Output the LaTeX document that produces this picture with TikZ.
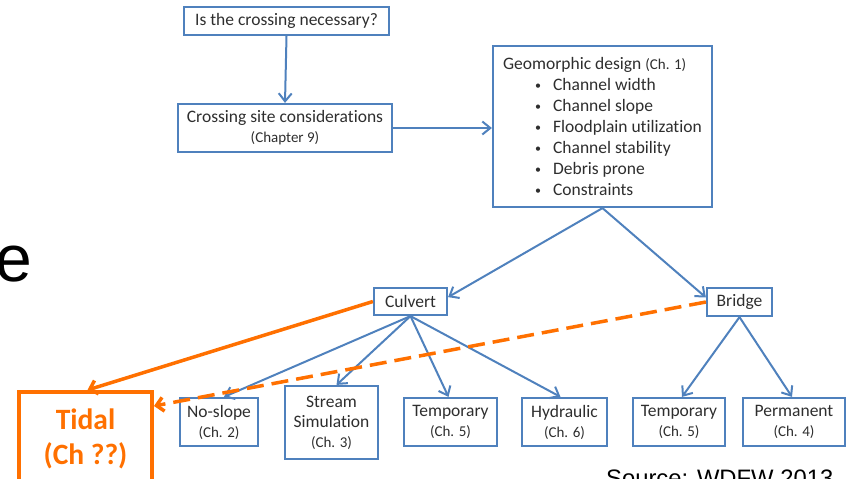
\documentclass[tikz,border=0pt]{standalone}
\usepackage{fontspec}
\setmainfont[Ligatures=NoCommon]{Carlito}
\newfontfamily\arialf{Liberation Sans}
\usetikzlibrary{arrows.meta,calc}
\definecolor{boxblue}{HTML}{4F81BD}
\definecolor{txtgray}{HTML}{2E2E2E}
\definecolor{orng}{HTML}{FF7000}
\newcommand{\smtxt}{\fontsize{15}{20}\selectfont}
\newcommand{\bul}{\hspace*{32pt}\makebox[18pt][l]{\raisebox{1pt}{\fontsize{12}{12}\selectfont •}}}
\begin{document}
\begin{tikzpicture}[x=1pt,y=-1pt,
  bx/.style={draw=boxblue, line width=2.2pt, rectangle, inner sep=0pt, text=txtgray,
     font=\fontsize{17.5}{20}\selectfont, align=center},
  blarrow/.style={draw=boxblue, line width=2pt, -{Straight Barb[length=8pt,width=13pt]}},
  orarrow/.style={draw=orng, line width=3.5pt, -{Straight Barb[length=7pt,width=14pt]}},
]
\useasboundingbox (0,0) rectangle (852,479);
\clip (0,0) rectangle (852,479);

\node[bx, minimum width=205pt, minimum height=28pt] (q) at (286.5,21) {Is the crossing necessary?};
\node[bx, minimum width=214pt, minimum height=48pt] (site) at (285,128) {Crossing site considerations\\{\smtxt (Chapter 9)}};
\node[bx, minimum width=219pt, minimum height=161pt, align=left, font=\fontsize{17.5}{21}\selectfont] (geo) at (602.5,126.5)
  {Geomorphic design {\smtxt (Ch. 1)}\\
   \bul Channel width\\
   \bul Channel slope\\
   \bul Floodplain utilization\\
   \bul Channel stability\\
   \bul Debris prone\\
   \bul Constraints};
\node[bx, minimum width=73pt, minimum height=27pt] (culvert) at (410.5,301.5) {Culvert};
\node[bx, minimum width=65pt, minimum height=28pt] (bridge) at (739.5,302) {Bridge};

\node[bx, minimum width=78pt, minimum height=48pt] (noslope) at (219,422) {No-slope\\{\smtxt (Ch. 2)}};
\node[bx, minimum width=93pt, minimum height=73pt] (stream) at (331.5,422.5) {Stream\\Simulation\\{\smtxt (Ch. 3)}};
\node[bx, minimum width=93pt, minimum height=48pt] (tempc) at (450.5,422) {Temporary\\{\smtxt (Ch. 5)}};
\node[bx, minimum width=85pt, minimum height=48pt] (hyd) at (564.5,422) {Hydraulic\\{\smtxt (Ch. 6)}};
\node[bx, minimum width=92pt, minimum height=48pt] (tempb) at (679,422) {Temporary\\{\smtxt (Ch. 5)}};
\node[bx, minimum width=102pt, minimum height=48pt] (perm) at (794,422) {Permanent\\{\smtxt (Ch. 4)}};

\node[draw=orng, line width=4pt, rectangle, inner sep=0pt, minimum width=133pt, minimum height=94pt,
      text=orng, font=\bfseries\fontsize{29.5}{35}\selectfont, align=center] (tidal) at (85.5,439) {Tidal\\(Ch ??)};

\node[anchor=base east, inner sep=0pt, font=\arialf\fontsize{66}{70}\selectfont] (bige) at (32,281) {e};
\node[anchor=base west, inner sep=0pt, font=\arialf\fontsize{23.8}{28}\selectfont] (src) at (606,486) {Source: WDFW 2013};

\draw[blarrow] (q.south) -- (site.north);
\draw[blarrow] (site.east) -- (site.east -| geo.west);
\draw[blarrow] (geo.south) -- ($(culvert.north east)!0.35!(culvert.south east)$);
\draw[blarrow] (geo.south) -- ($(bridge.north west)!0.35!(bridge.south west)$);
\draw[blarrow] (culvert.south) -- ([xshift=5pt]noslope.north);
\draw[blarrow] (culvert.south) -- ([xshift=5pt]stream.north);
\draw[blarrow] (culvert.south) -- ([xshift=-2pt]tempc.north);
\draw[blarrow] (culvert.south) -- ([xshift=-4pt]hyd.north);
\draw[blarrow] (bridge.south) -- ([xshift=3pt]tempb.north);
\draw[blarrow] (bridge.south) -- ([xshift=-2pt]perm.north);

\draw[orarrow] (culvert.west) -- ([xshift=2pt]tidal.north);
\draw[orarrow, dash pattern=on 17pt off 8pt] (bridge.west) -- ([yshift=-16pt]tidal.north east);
\end{tikzpicture}
\end{document}
